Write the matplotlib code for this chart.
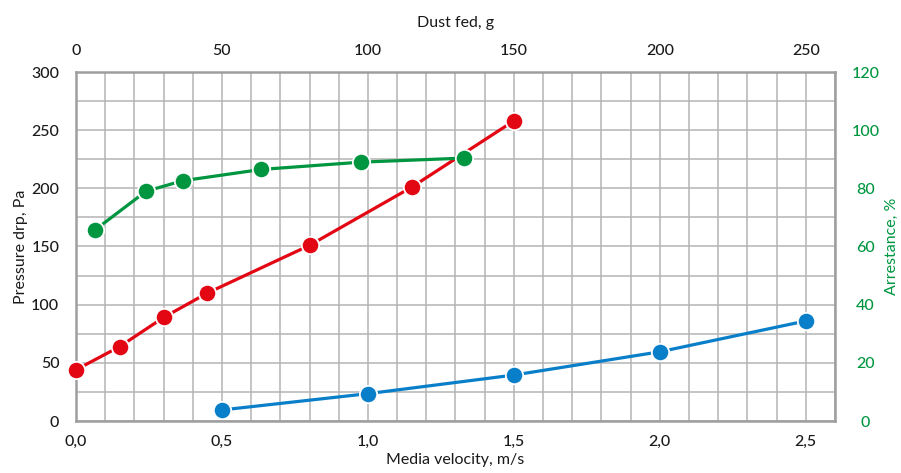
import numpy as np
import matplotlib
matplotlib.use("Agg")
import matplotlib.pyplot as plt

plt.rcParams["font.family"] = ["Lato", "DejaVu Sans"]
plt.rcParams["font.weight"] = "medium"

# Pressure drop vs dust fed (red, top axis)
dust_red   = [0, 15, 30, 45, 80, 115, 150]
press_red  = [44, 64, 89, 110, 151, 201, 258]

# Arrestance vs dust fed (green, top axis / right axis)
dust_green = [6.5, 24, 36.5, 63.5, 97.5, 133]
arrest     = [65.7, 79, 82.6, 86.5, 89, 90.4]

# Pressure drop vs media velocity (blue, bottom axis)
velocity   = [0.5, 1.0, 1.5, 2.0, 2.5]
press_blue = [9.5, 23.5, 39.5, 59.5, 86]

RED, GREEN, BLUE = "#E30613", "#009640", "#0A7FC9"
GRID, FRAME = "#b4b4b4", "#9e9e9e"
TXT = "#1a1a1a"
FS = 11.5

fig = plt.figure(figsize=(9.01, 4.73), dpi=100)
ax = fig.add_axes([76/901, 1-421/473, (835-76)/901, (421-72)/473])

ax.set_xlim(0, 2.6)
ax.set_ylim(0, 300)
ax.set_xticks(np.arange(0, 2.51, 0.5))
ax.set_xticklabels([f"{v:.1f}".replace(".", ",") for v in np.arange(0, 2.51, 0.5)])
ax.set_xticks(np.arange(0, 2.61, 0.1), minor=True)
ax.set_yticks(np.arange(0, 301, 50))
ax.set_yticks(np.arange(0, 301, 25), minor=True)
ax.grid(True, which="both", color=GRID, linewidth=1.1)
ax.set_axisbelow(True)
ax.tick_params(which="both", length=0, labelsize=FS, colors=TXT)
ax.tick_params(axis="x", pad=10)
ax.tick_params(axis="y", pad=12)
for s in ax.spines.values():
    s.set_color(FRAME)
    s.set_linewidth(1.8)
ax.set_xlabel("Media velocity, m/s", fontsize=FS, labelpad=3, color=TXT)
ax.set_ylabel("Pressure drp, Pa", fontsize=FS, labelpad=2, color=TXT)

# top axis: dust fed
axt = ax.twiny()
axt.set_xlim(0, 260)
axt.set_xticks(np.arange(0, 251, 50))
axt.tick_params(length=0, labelsize=FS, pad=10, colors=TXT)
axt.set_xlabel("Dust fed, g", fontsize=FS, labelpad=12, color=TXT)

# right axis: arrestance, sharing top x
axr = axt.twinx()
axr.set_ylim(0, 120)
axr.set_yticks(np.arange(0, 121, 20))
axr.tick_params(length=0, labelsize=FS, pad=22, colors=GREEN)
for lab in axr.get_yticklabels():
    lab.set_horizontalalignment("center")
axr.set_ylabel("Arrestance, %", fontsize=FS, color=GREEN, labelpad=4)

for a in (axt, axr):
    for s in a.spines.values():
        s.set_visible(False)

mk = dict(marker="o", markersize=12.5, markeredgecolor="white", markeredgewidth=1.3,
          linewidth=2.3, clip_on=False)
ax.plot(velocity, press_blue, color=BLUE, **mk)
axt.plot(dust_red, press_red, color=RED, **mk)
axr.plot(dust_green, arrest, color=GREEN, **mk)

fig.savefig("out.png", dpi=100)
